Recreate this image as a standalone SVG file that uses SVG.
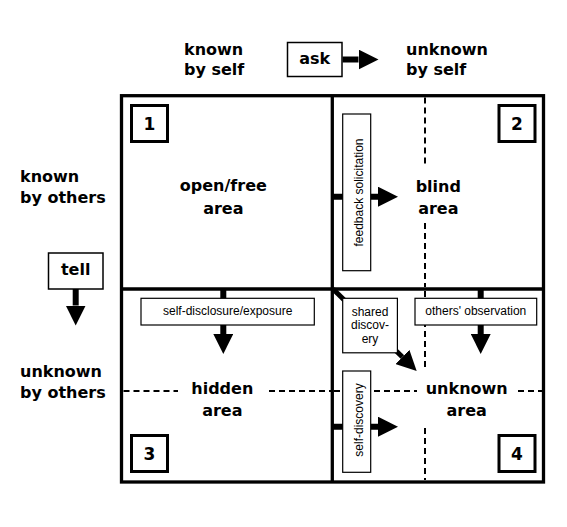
<svg xmlns="http://www.w3.org/2000/svg" width="567" height="527" viewBox="0 0 567 527">
<style>
.big{font-family:"DejaVu Sans",Verdana,sans-serif;font-weight:bold;font-size:16px;fill:#000}
.num{font-family:"DejaVu Sans",Verdana,sans-serif;font-weight:bold;font-size:17px;fill:#000;text-anchor:middle}
.small{font-family:"Liberation Sans",Arial,sans-serif;font-size:12px;fill:#000;text-anchor:middle}
.mid{text-anchor:middle}
.frame{fill:none;stroke:#000;stroke-width:3.3}
.dash{fill:none;stroke:#000;stroke-width:2;stroke-dasharray:6 4}
.conn{fill:none;stroke:#000;stroke-width:6}
.box{fill:#fff;stroke:#000;stroke-width:1.2}
.nbox{fill:#fff;stroke:#000;stroke-width:3}
</style>
<defs>
<marker id="head" viewBox="0 0 20 20" refX="0" refY="10" markerWidth="20" markerHeight="20" markerUnits="userSpaceOnUse" orient="auto">
<path d="M0,0 L20,10 L0,20 z" fill="#000"/>
</marker>
</defs>
<rect fill="#fff" x="0" y="0" width="567" height="527"/>

<g id="grid">
<rect class="frame" x="121.5" y="95.7" width="422" height="386.3"/>
<line class="frame" x1="332.3" y1="95.7" x2="332.3" y2="482"/>
<line class="frame" x1="121.5" y1="289" x2="543.5" y2="289"/>
</g>

<g id="dashed">
<line class="dash" x1="425" y1="97.5" x2="425" y2="167"/>
<line class="dash" x1="425" y1="223" x2="425" y2="287"/>
<line class="dash" x1="425" y1="291" x2="425" y2="370"/>
<line class="dash" x1="425" y1="428" x2="425" y2="480"/>
<line class="dash" x1="123.5" y1="391" x2="178" y2="391"/>
<line class="dash" x1="269" y1="391" x2="331" y2="391"/>
<line class="dash" x1="334" y1="391" x2="417" y2="391"/>
<line class="dash" x1="518" y1="391" x2="542" y2="391"/>
</g>

<g id="connectors">
<line class="conn" x1="342.5" y1="59.5" x2="358.5" y2="59.5" marker-end="url(#head)"/>
<line class="conn" x1="75.7" y1="289" x2="75.7" y2="305.5" marker-end="url(#head)"/>
<line class="conn" x1="333" y1="196.7" x2="378" y2="196.7" marker-end="url(#head)"/>
<line class="conn" x1="223.3" y1="290" x2="223.3" y2="334" marker-end="url(#head)"/>
<line class="conn" x1="480.7" y1="290" x2="480.7" y2="334" marker-end="url(#head)"/>
<line class="conn" style="stroke-width:5" x1="333" y1="289" x2="402.4" y2="357" marker-end="url(#head)"/>
<line class="conn" x1="333" y1="426.7" x2="378" y2="426.7" marker-end="url(#head)"/>
</g>

<g id="known-by-self">
<text class="big" x="184" y="55">known</text>
<text class="big" x="184" y="75">by self</text>
</g>
<g id="unknown-by-self">
<text class="big" x="406" y="55">unknown</text>
<text class="big" x="406" y="75">by self</text>
</g>
<g id="known-by-others">
<text class="big" x="20" y="182">known</text>
<text class="big" x="20" y="203">by others</text>
</g>
<g id="unknown-by-others">
<text class="big" x="20" y="377">unknown</text>
<text class="big" x="20" y="397.5">by others</text>
</g>

<g id="ask">
<rect class="box" style="stroke-width:1.5" x="287.5" y="42.5" width="54.5" height="34"/>
<text class="big mid" x="314.7" y="64">ask</text>
</g>
<g id="tell">
<rect class="box" style="stroke-width:1.5" x="48.5" y="253" width="54.5" height="36"/>
<text class="big mid" x="75.7" y="275">tell</text>
</g>

<g id="open-area">
<text class="big mid" x="223.3" y="191">open/free</text>
<text class="big mid" x="223.3" y="213.5">area</text>
</g>
<g id="blind-area">
<text class="big mid" x="438.3" y="191.5">blind</text>
<text class="big mid" x="438.3" y="213.5">area</text>
</g>
<g id="hidden-area">
<text class="big mid" x="222.3" y="394">hidden</text>
<text class="big mid" x="222.3" y="415.5">area</text>
</g>
<g id="unknown-area">
<text class="big mid" x="466.7" y="394">unknown</text>
<text class="big mid" x="466.7" y="415.5">area</text>
</g>

<g id="n1">
<rect class="nbox" x="131.5" y="105.5" width="36" height="36"/>
<text class="num" x="149.5" y="129.5">1</text>
</g>
<g id="n2">
<rect class="nbox" x="499" y="105.5" width="36" height="36"/>
<text class="num" x="517" y="129.5">2</text>
</g>
<g id="n3">
<rect class="nbox" x="131.5" y="435.5" width="36" height="36"/>
<text class="num" x="149.5" y="459.5">3</text>
</g>
<g id="n4">
<rect class="nbox" x="499" y="435.5" width="36" height="36"/>
<text class="num" x="517" y="459.5">4</text>
</g>

<g id="feedback">
<rect class="box" x="342.7" y="114" width="28" height="156.7"/>
<text class="small" transform="translate(363.3,192.5) rotate(-90)" x="0" y="0">feedback solicitation</text>
</g>
<g id="self-discovery">
<rect class="box" x="342.7" y="371" width="28" height="101.3"/>
<text class="small" transform="translate(363.3,420) rotate(-90)" x="0" y="0">self-discovery</text>
</g>
<g id="self-disclosure">
<rect class="box" x="141" y="298.3" width="173.3" height="26.7"/>
<text class="small" x="227.7" y="315">self-disclosure/exposure</text>
</g>
<g id="others-observation">
<rect class="box" x="415" y="298.3" width="121.7" height="26.7"/>
<text class="small" x="475.8" y="315">others' observation</text>
</g>
<g id="shared-discovery">
<rect class="box" x="342.7" y="298.3" width="54.7" height="54.5"/>
<text class="small" x="370" y="315.5">shared</text>
<text class="small" x="370" y="329">discov-</text>
<text class="small" x="370" y="342.5">ery</text>
</g>
</svg>
